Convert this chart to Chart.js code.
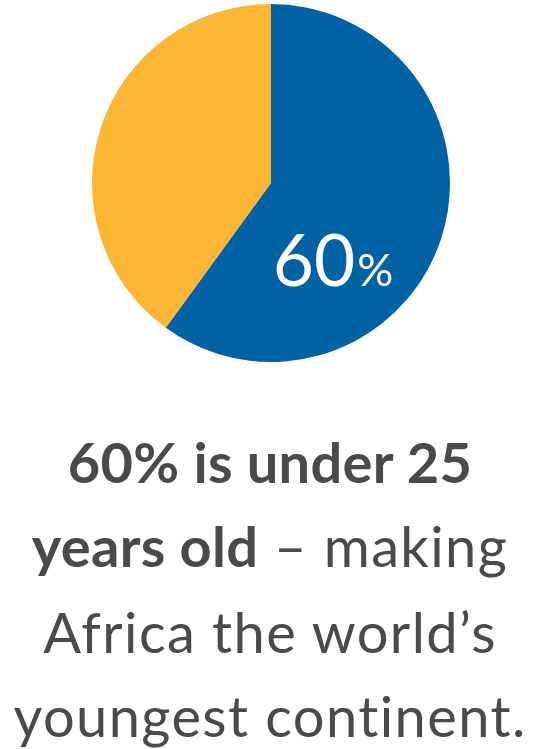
<!DOCTYPE html>
<html>
<head>
<meta charset="utf-8">
<script src="https://cdn.jsdelivr.net/npm/chart.js@4.4.0/dist/chart.umd.min.js"></script>
<style>
  html, body { margin:0; padding:0; background:#fff; width:540px; height:749px; overflow:hidden; }
  #wrap { position:absolute; left:1px; top:4px; width:540px; height:358px; }
  .cap { position:absolute; left:0; width:540px; text-align:center; white-space:nowrap;
         font-family: Lato, "Noto Sans", sans-serif; font-size:56px; color:#4a4a4a; line-height:1; }
  .b { font-weight:700; letter-spacing:0.3px; }
  .l { font-weight:400; letter-spacing:1.4px; }
</style>
</head>
<body>
<div id="wrap"><canvas id="c"></canvas></div>
<div class="cap b" style="top:434px;">60% is under 25</div>
<div class="cap" style="top:518px;"><span class="b">years old</span><span class="l"> – making</span></div>
<div class="cap l" style="top:604px;">Africa the world’s</div>
<div class="cap l" style="top:688px;">youngest continent.</div>
<script>
const categories = ["Under 25", "25 and over"];
const values = [60, 40];
const colors = ["#0061A3", "#FCB636"];
const labelMain = "60";
const labelUnit = "%";

const labelPlugin = {
  id: 'pieLabel',
  afterDatasetsDraw(chart) {
    const arc = chart.getDatasetMeta(0).data[0];
    const ctx = chart.ctx;
    const r = arc.outerRadius;
    const x = arc.x + 0.01 * r;
    const y = arc.y + 0.575 * r;
    ctx.save();
    ctx.fillStyle = '#ffffff';
    ctx.textBaseline = 'alphabetic';
    ctx.textAlign = 'left';
    ctx.font = '400 71px Lato, "Noto Sans", sans-serif';
    ctx.fillText(labelMain, x, y);
    const w = ctx.measureText(labelMain).width;
    ctx.font = '400 45px Lato, "Noto Sans", sans-serif';
    ctx.fillText(labelUnit, x + w + 2, y);
    ctx.restore();
  }
};

new Chart(document.getElementById('c'), {
  type: 'pie',
  data: {
    labels: categories,
    datasets: [{ data: values, backgroundColor: colors, borderWidth: 0 }]
  },
  options: {
    responsive: true,
    maintainAspectRatio: false,
    animation: false,
    layout: { padding: 0 },
    plugins: { legend: { display: false }, tooltip: { enabled: false } }
  },
  plugins: [labelPlugin]
});
</script>
</body>
</html>
